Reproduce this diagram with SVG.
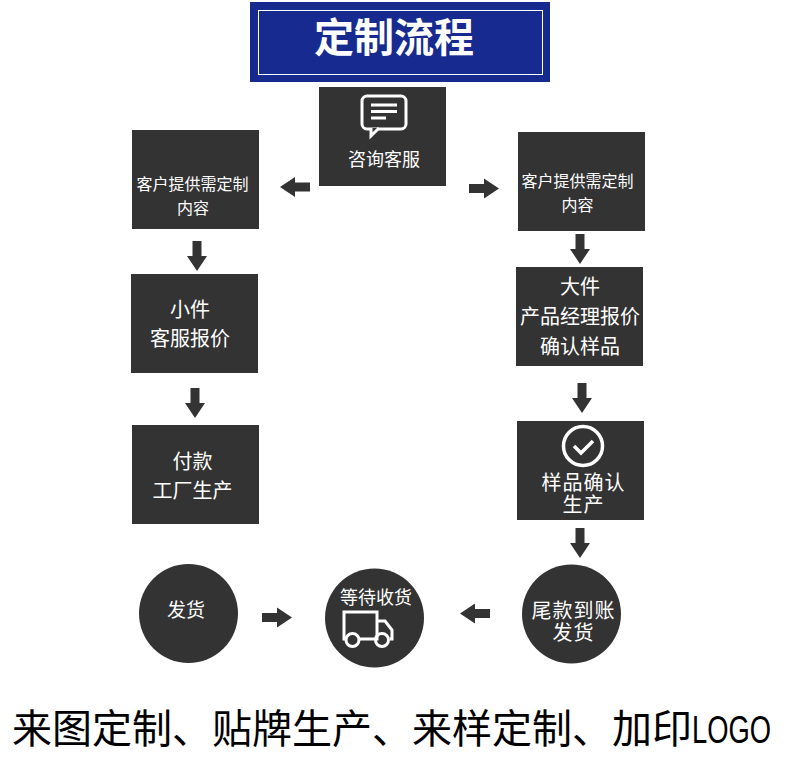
<svg xmlns="http://www.w3.org/2000/svg" width="790" height="762" viewBox="0 0 790 762">
<style>
.box{fill:#333}
.t{fill:#fff;font-family:"Noto Sans CJK SC","Noto Sans CJK JP",sans-serif;text-anchor:middle}
.s16{font-size:16px}.s18{font-size:18px}.s19{font-size:19px}.s20{font-size:20px}
.w{letter-spacing:1px}
.ic{fill:none;stroke:#fff;stroke-width:3}
.bot{fill:#000;font-family:"Noto Sans CJK SC",sans-serif;font-size:40px}
</style>
<defs>
<path id="ar" d="M-15,-4.500H0V-10L15,0L0,10V4.500H-15Z" fill="#333"/>
</defs>
<rect width="790" height="762" fill="#fff"/>
<g id="title">
<rect x="250" y="2" width="300" height="80" fill="#172a8f"/>
<rect x="258.500" y="10.500" width="284" height="64" fill="none" stroke="#fff"/>
<text x="394" y="52" class="t" font-size="40" font-weight="700">定制流程</text>
</g>
<g id="consult">
<rect class="box" x="319" y="87" width="127" height="99"/>
<rect class="ic" x="362" y="96" width="44" height="33" rx="5"/>
<path d="M371,128V136L379,128" fill="#333" stroke="#fff" stroke-width="3"/>
<path d="M371,105H397M371,111.500H397M371,118H386" class="ic"/>
<text x="384" y="166" class="t s18">咨询客服</text>
</g>
<g id="left-need">
<rect class="box" x="132" y="130" width="127" height="99"/>
<text x="192.500" y="190" class="t s16">客户提供需定制</text>
<text x="193" y="214" class="t s16">内容</text>
</g>
<g id="right-need">
<rect class="box" x="518" y="132" width="127" height="99"/>
<text x="577.500" y="187" class="t s16">客户提供需定制</text>
<text x="577.500" y="211" class="t s16">内容</text>
</g>
<g id="small">
<rect class="box" x="131" y="274" width="127" height="99"/>
<text x="190" y="317" class="t s20">小件</text>
<text x="190" y="346" class="t s20">客服报价</text>
</g>
<g id="large">
<rect class="box" x="516" y="267" width="127" height="99"/>
<text x="580" y="294" class="t s20">大件</text>
<text x="580" y="324" class="t s20">产品经理报价</text>
<text x="580" y="354" class="t s20">确认样品</text>
</g>
<g id="pay">
<rect class="box" x="132" y="425" width="127" height="99"/>
<text x="192.500" y="469" class="t s20">付款</text>
<text x="192.500" y="498" class="t s20">工厂生产</text>
</g>
<g id="sample">
<rect class="box" x="517" y="421" width="127" height="99"/>
<circle cx="583" cy="446" r="19.500" fill="none" stroke="#fff" stroke-width="3.500"/>
<path d="M574,446L581,453L593,441" fill="none" stroke="#fff" stroke-width="3.500"/>
<text class="t s20 w"><tspan x="583.500" y="490">样品确认</tspan><tspan x="583.500" y="512">生产</tspan></text>
</g>
<g id="ship">
<circle class="box" cx="188.500" cy="613.500" r="49.500"/>
<text x="186" y="617" class="t s19">发货</text>
</g>
<g id="wait">
<circle class="box" cx="374.500" cy="618" r="49.500"/>
<text x="376" y="604" class="t s18">等待收货</text>
<path class="ic" d="M345,639H344V612H377V639H360M377,621H385L392,630V639H390M377,639H374"/>
<circle class="ic" cx="352.500" cy="640" r="6.500"/>
<circle class="ic" cx="382" cy="640" r="6.500"/>
</g>
<g id="balance">
<circle class="box" cx="571.500" cy="614" r="49.500"/>
<text class="t s20 w"><tspan x="573.500" y="618">尾款到账</tspan><tspan x="573.500" y="640">发货</tspan></text>
</g>
<g id="connectors">
<use href="#ar" transform="translate(295,187) rotate(180)"/>
<use href="#ar" transform="translate(484,188.500)"/>
<use href="#ar" transform="translate(197,256) rotate(90)"/>
<use href="#ar" transform="translate(580,249) rotate(90)"/>
<use href="#ar" transform="translate(195,403) rotate(90)"/>
<use href="#ar" transform="translate(582,398) rotate(90)"/>
<use href="#ar" transform="translate(580,543) rotate(90)"/>
<use href="#ar" transform="translate(277,617.500)"/>
<use href="#ar" transform="translate(475,613.500) rotate(180)"/>
</g>
<g id="caption">
<text x="12" y="743" class="bot">来图定制、贴牌生产、来样定制、加印</text>
<text transform="translate(692,743) scale(.72,1)" font-family="Liberation Sans,sans-serif" font-size="38" fill="#000">LOGO</text>
</g>
</svg>
